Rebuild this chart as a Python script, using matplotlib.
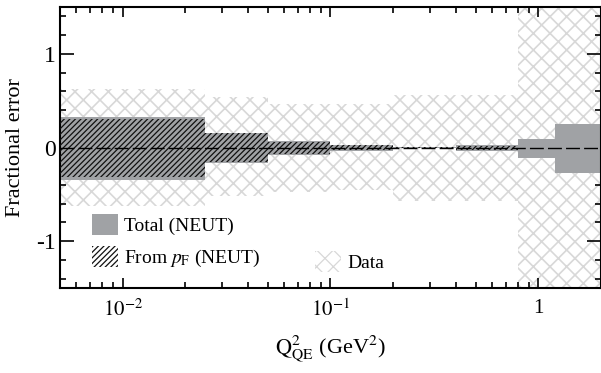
import numpy as np
import matplotlib.pyplot as plt
from matplotlib.ticker import MultipleLocator, NullFormatter

plt.rcParams['font.family'] = ['Liberation Serif', 'DejaVu Serif']
plt.rcParams['mathtext.fontset'] = 'stix'
plt.rcParams['axes.unicode_minus'] = False

# bin edges in Q^2 (GeV^2) and fractional errors per bin
edges = [0.005, 0.025, 0.05, 0.1, 0.2, 0.4, 0.8, 1.2, 2.0]
data_hi = [0.62, 0.54, 0.46, 0.46, 0.56, 0.56, 5.0, 5.0]
data_lo = [-0.62, -0.52, -0.47, -0.45, -0.57, -0.57, -5.0, -5.0]
total_hi = [0.33, 0.16, 0.065, 0.028, 0.005, 0.025, 0.095, 0.255]
total_lo = [-0.35, -0.17, -0.08, -0.035, -0.005, -0.035, -0.117, -0.277]
pf_hi = [0.30, 0.15, 0.06, 0.025, 0.004, 0.02, 0.0, 0.0]
pf_lo = [-0.32, -0.16, -0.07, -0.03, -0.004, -0.03, 0.0, 0.0]

left = np.array(edges[:-1])
width = np.diff(edges)


def band(ax, lo, hi, **kw):
    lo = np.array(lo)
    hi = np.array(hi)
    return ax.bar(left, hi - lo, width, bottom=lo, align='edge', **kw)


def set_hlw(bars, lw):
    for b in bars:
        if hasattr(b, 'set_hatch_linewidth'):
            b.set_hatch_linewidth(lw)


fig = plt.figure(figsize=(6.01, 3.73), dpi=100)
ax = fig.add_axes([60 / 601, 1 - 288 / 373, 1 - 60 / 601, (288 - 7) / 373])

plt.rcParams['hatch.linewidth'] = 1.2
data_bars = band(ax, data_lo, data_hi, fill=False, hatch='xx', edgecolor='#d8d8d8',
                 linewidth=0, label='Data', zorder=1)
set_hlw(data_bars, 1.2)

tot_bars = band(ax, total_lo, total_hi, color='#a0a2a5', linewidth=0,
                label='Total (NEUT)', zorder=2)

plt.rcParams['hatch.linewidth'] = 0.9
pf_bars = band(ax, pf_lo, pf_hi, fill=False, hatch='//////', edgecolor='#111111',
               linewidth=0, label=r'From $p_{\mathrm{F}}$ (NEUT)', zorder=3)
set_hlw(pf_bars, 0.9)

ax.axhline(0, color='black', lw=1.0, dashes=(10, 3), zorder=4)

ax.set_xscale('log')
ax.set_xlim(0.005, 2.0)
ax.set_ylim(-1.5, 1.5)

ax.set_xticks([0.01, 0.1, 1], [r'$10^{-2}$', r'$10^{-1}$', '1'])
ax.xaxis.set_minor_formatter(NullFormatter())
ax.set_yticks([-1, 0, 1], ['-1', '0', '1'])
ax.yaxis.set_minor_locator(MultipleLocator(0.2))

for s in ax.spines.values():
    s.set_linewidth(1.5)
ax.tick_params(which='both', direction='in', top=True, right=True, width=1.2)
ax.tick_params(axis='y', which='major', length=10, labelsize=17, pad=3)
ax.tick_params(axis='y', which='minor', length=4.5)
ax.tick_params(axis='x', which='major', length=7, labelsize=15, pad=8)
ax.tick_params(axis='x', which='minor', length=4)

ax.set_ylabel('Fractional error', fontsize=16, labelpad=8)
ax.set_xlabel(r'$\mathrm{Q^{2}_{QE}}$ (GeV$^{2}$)', fontsize=16, labelpad=9)

leg1 = ax.legend(handles=[tot_bars, pf_bars], loc='upper left', bbox_to_anchor=(0.045, 0.29),
                 frameon=False, fontsize=14, handlelength=1.35, handleheight=1.3,
                 handletextpad=0.3, labelspacing=0.55, borderaxespad=0)
ax.add_artist(leg1)
ax.legend(handles=[data_bars], loc='upper left', bbox_to_anchor=(0.457, 0.16),
          frameon=False, fontsize=14, handlelength=1.35, handleheight=1.3,
          handletextpad=0.3, borderaxespad=0)

fig.savefig('out.png', dpi=100)
